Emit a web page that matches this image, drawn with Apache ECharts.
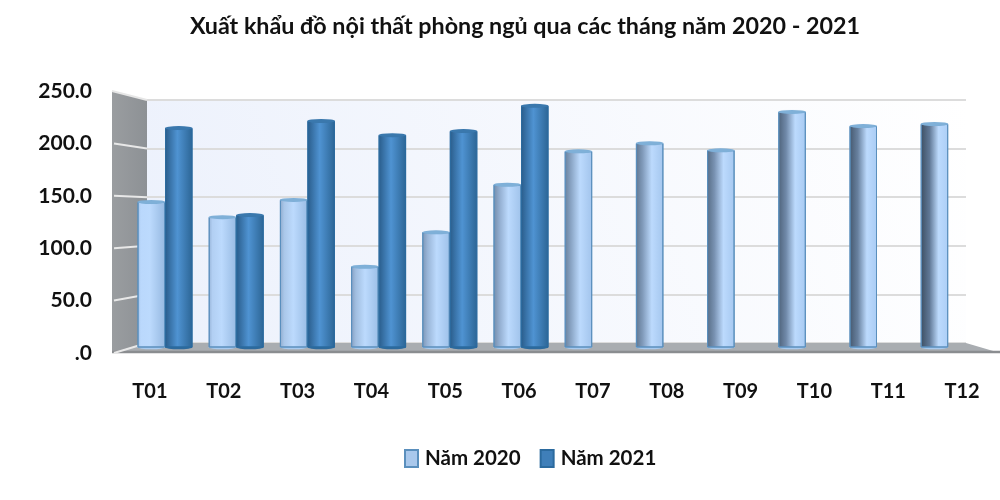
<!DOCTYPE html>
<html><head><meta charset="utf-8">
<style>html,body{margin:0;padding:0;background:#fff}#c{width:1000px;height:500px}</style>
<script src="https://cdn.jsdelivr.net/npm/echarts@6/dist/echarts.min.js"></script>
</head><body><div id="c"></div>
<script>
const titleText = 'Xuất khẩu đồ nội thất phòng ngủ qua các tháng năm 2020 - 2021';
const categories = ['T01','T02','T03','T04','T05','T06','T07','T08','T09','T10','T11','T12'];
const year2020 = [144,129,146,80,114,161,194,202,195,233,219,221];
const year2021 = [217,131,224,210,214,239,null,null,null,null,null,null];
const seriesNames = ['Năm 2020','Năm 2021'];
const valueTicks = [0,50,100,150,200,250];

const FONT = 'Lato,"Liberation Sans",sans-serif';
const W = 27.5;
const mix = (a,b,t)=>'rgb('+a.map((v,i)=>Math.round(v+(b[i]-v)*t)).join(',')+')';
const grad = stops => ({type:'linear',x:0,y:0,x2:1,y2:0,colorStops:stops});
const light = i => {
  const t = i/(categories.length-1);
  return grad([
    {offset:0,color:mix([160,190,228],[60,78,98],t)},
    {offset:0.12+0.2*t,color:mix([186,216,252],[96,120,150],t)},
    {offset:0.45+0.2*t,color:'#bcdafd'},
    {offset:1,color:mix([150,185,225],[172,206,246],t)}
  ]);
};
const dark = grad([{offset:0,color:'#295c8a'},{offset:0.45,color:'#4f93d2'},{offset:1,color:'#2c6595'}]);

function barSeries(name, values, colorOf, edge, flat, bottom, cap, offset, z){
  const base = {type:'pictorialBar',xAxisIndex:2,yAxisIndex:2,symbol:'circle',symbolSize:[W,4],silent:true,
    tooltip:{show:false},z:z};
  return [
    Object.assign({},base,{name:name+' đáy',data:values,symbolPosition:'start',symbolOffset:[offset,'50%'],
      itemStyle:{color:bottom,borderColor:edge,borderWidth:1}}),
    {name,type:'bar',xAxisIndex:2,yAxisIndex:2,barWidth:W,barGap:0,z:z,
      itemStyle:{color:flat,borderColor:edge,borderWidth:1},
      data:values.map((v,i)=>({value:v,itemStyle:{color:colorOf(i),borderColor:edge,borderWidth:1}}))},
    Object.assign({},base,{name:name+' đỉnh',data:values,symbolPosition:'end',symbolOffset:[offset,'-50%'],z:z+0.1,
      itemStyle:{color:cap,borderColor:edge,borderWidth:1}})
  ];
}

const chart = echarts.init(document.getElementById('c'),null,{renderer:'canvas'});
const grids = [
  {left:147,right:34,top:100,bottom:157,show:true,borderWidth:0,
   backgroundColor:{type:'linear',x:0,y:1,x2:1,y2:0,colorStops:[{offset:0,color:'#ecf1fc'},{offset:1,color:'#ffffff'}]}},
  {left:113,right:1,top:91,bottom:147},
  {left:129.4,right:16.2,top:94.5,bottom:152.5}
];
const hiddenCat = {type:'category',data:categories,axisLine:{show:false},axisTick:{show:false},axisLabel:{show:false}};
const option = {
  animation:false,
  backgroundColor:'#ffffff',
  title:{text:titleText,left:520,top:10,textAlign:'center',
    textStyle:{fontFamily:FONT,fontWeight:'bold',fontSize:23.3,color:'#111'}},
  legend:{data:seriesNames,left:399,top:443,itemWidth:13,itemHeight:17,itemGap:19,icon:'rect',
    textStyle:{fontFamily:FONT,fontWeight:'bold',fontSize:20.5,color:'#111',padding:[0,0,0,2]}},
  grid:grids,
  xAxis:[
    Object.assign({gridIndex:0},hiddenCat),
    {gridIndex:1,type:'category',data:categories,axisLine:{show:false},axisTick:{show:false},
      axisLabel:{margin:29,fontFamily:FONT,fontWeight:'bold',fontSize:20,color:'#111'}},
    Object.assign({gridIndex:2},hiddenCat)
  ],
  yAxis:[
    {gridIndex:0,type:'value',min:0,max:250,interval:50,axisLine:{show:false},axisTick:{show:false},axisLabel:{show:false},
      splitLine:{show:true,lineStyle:{color:'#dcdcdc',width:2}}},
    {gridIndex:1,type:'value',min:0,max:250,interval:50,axisLine:{show:false},axisTick:{show:false},splitLine:{show:false},
      axisLabel:{margin:21,fontFamily:FONT,fontWeight:'bold',fontSize:21,color:'#111',
        formatter:v=>v===0?'.0':v.toFixed(1)}},
    {gridIndex:2,type:'value',min:0,max:250,interval:50,axisLine:{show:false},axisTick:{show:false},axisLabel:{show:false},splitLine:{show:false}}
  ],
  series:[
    ...barSeries(seriesNames[0],year2020,light,'#5a8fbd','#a9c8ec','#a9cbf0','#7fb0d8',-W/2,3),
    ...barSeries(seriesNames[1],year2021,()=>dark,'#2b6a9e','#3f7fb9','#2f6a9c','#3a78ad',W/2,4)
  ]
};
chart.setOption(option);

// walls and floor follow the axes: corners come from the front and back value scales
const back = v => chart.convertToPixel({yAxisIndex:0},v);
const front = v => chart.convertToPixel({yAxisIndex:1},v);
const xF = 112, xB = 147, xR = 966, xE = 1000;
const deco = [
  {type:'polygon',z:1,shape:{points:[[xF,front(250)],[xB,back(250)],[xB,back(0)],[xF,front(0)]]},
    style:{fill:{type:'linear',x:0,y:0,x2:1,y2:0,colorStops:[{offset:0,color:'#9a9da0'},{offset:1,color:'#8d9195'}]}}},
  {type:'polygon',z:1,shape:{points:[[xB,back(0)],[xR,back(0)],[xE,front(0)],[xF,front(0)]]},style:{fill:'#a9adb1'}},
  {type:'polyline',z:1,shape:{points:[[xF,front(0)-1],[xE,front(0)-1]]},style:{stroke:'#8a8d90',lineWidth:2.5,fill:null}},
  {type:'polyline',z:1,shape:{points:[[xF,front(250)],[xB,back(250)]]},style:{stroke:'#e6e6e6',lineWidth:2,fill:null}},
  ...valueTicks.slice(0,-1).map(v=>({type:'polyline',z:1,
    shape:{points:[[xF+2,front(v)],[xB,back(v)]]},style:{stroke:'#e8e8e8',lineWidth:2,fill:null}}))
];
chart.setOption({graphic:{elements:deco}});
</script></body></html>
